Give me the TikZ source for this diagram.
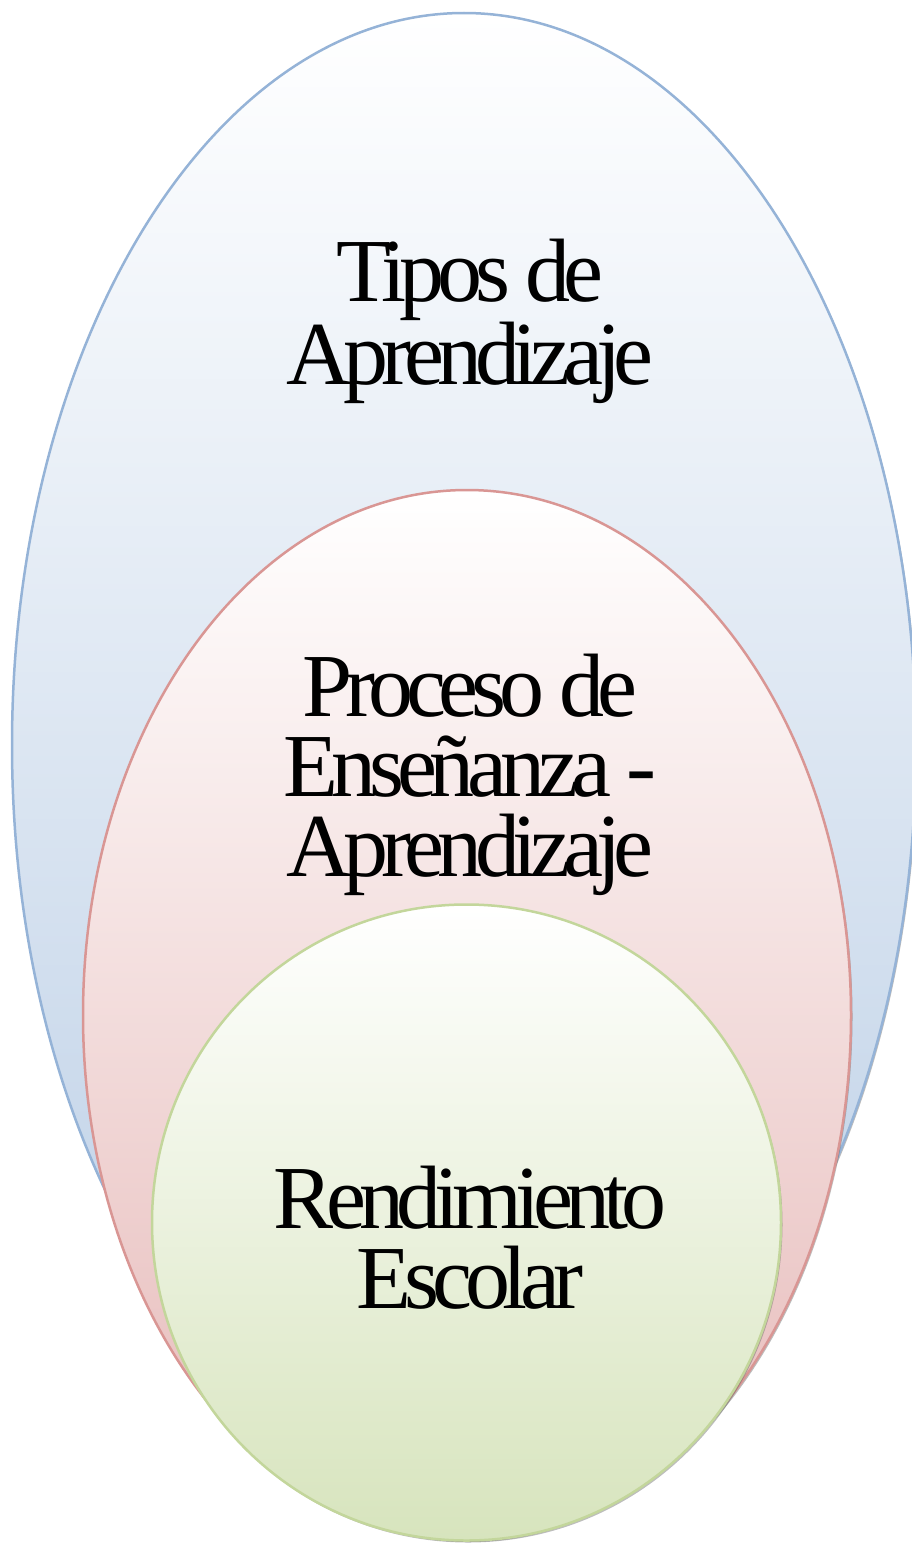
\documentclass[tikz,border=0pt]{standalone}
\usepackage{fontspec}
\setmainfont{Liberation Serif}
\newfontfamily\lblfont[LetterSpace=-8]{Liberation Serif}
\usetikzlibrary{shapes.geometric,shadows}
\definecolor{blueline}{HTML}{95B3D7}
\definecolor{bluebot}{HTML}{B9CDE5}
\definecolor{redline}{HTML}{D99694}
\definecolor{redbot}{HTML}{E6B9B8}
\definecolor{greenline}{HTML}{C3D69B}
\definecolor{greenbot}{HTML}{D7E4BD}
\begin{document}
\begin{tikzpicture}[x=1pt,y=-1pt,
  oval/.style={ellipse, inner sep=0pt, line width=2.5pt,
    drop shadow={shadow xshift=1.5pt, shadow yshift=-2pt, opacity=0.4, fill=black!65}},
  lbl/.style={align=center, inner sep=0pt, text=black,
    font=\lblfont\fontsize{90}{80}\selectfont}]
\useasboundingbox (0,0) rectangle (912,1544);
\node[oval, draw=blueline, top color=white, bottom color=bluebot,
  minimum width=904pt, minimum height=1464pt] (blue) at (464,745) {};
\node[oval, draw=redline, top color=white, bottom color=redbot,
  minimum width=768pt, minimum height=1050pt] (red) at (467,1015) {};
\node[oval, draw=greenline, top color=white, bottom color=greenbot,
  minimum width=629pt, minimum height=636pt] (green) at (466.5,1222.5) {};
\node[lbl, anchor=base] (t1) at (470,384) {Tipos de\\Aprendizaje};
\node[lbl, anchor=base] (t2) at (470,876) {Proceso de\\Enseñanza -\\Aprendizaje};
\node[lbl, anchor=base] (t3) at (470,1308) {Rendimiento\\Escolar};
\end{tikzpicture}
\end{document}
